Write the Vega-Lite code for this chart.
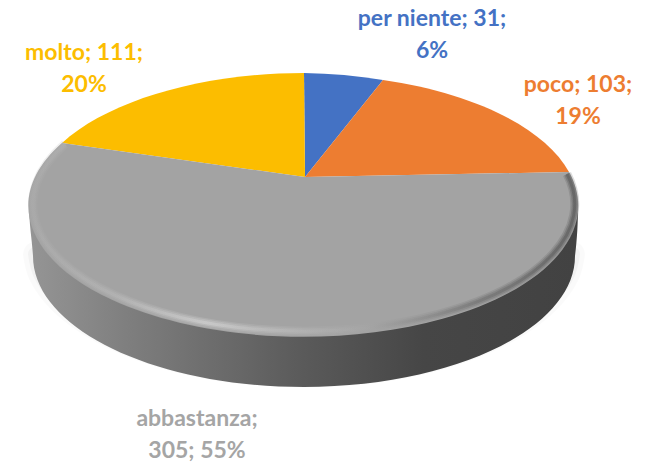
{"$schema":"https://vega.github.io/schema/vega-lite/v6.json","width":646,"height":468,"padding":0,"autosize":{"type":"none"},"background":"#ffffff","config":{"view":{"stroke":null}},
"datasets":{"slices":[{"category":"per niente","value":31,"pct":6,"label":"per niente; 31;\n6%"},{"category":"poco","value":103,"pct":19,"label":"poco; 103;\n19%"},{"category":"abbastanza","value":305,"pct":55,"label":"abbastanza;\n305; 55%"},{"category":"molto","value":111,"pct":20,"label":"molto; 111;\n20%"}]},
"data":{"name":"slices"},
"layer":[
{"transform":[{"filter":"datum.category==='abbastanza'"}],"mark":{"type":"point","size":4,"filled":false,"opacity":1,"stroke":"#000000","strokeOpacity":0.02,"strokeCap":"round","strokeWidth":24,"shape":"M-288 20 C-287 28 -286 33 -283 40 A271 131 0 0 0 245 40 C248 33 249 28 250 20"}},
{"transform":[{"filter":"datum.category==='abbastanza'"}],"mark":{"type":"point","size":4,"filled":false,"opacity":1,"stroke":"#000000","strokeOpacity":0.03,"strokeCap":"round","strokeWidth":14,"shape":"M-288 20 C-287 28 -286 33 -283 40 A271 131 0 0 0 245 40 C248 33 249 28 250 20"}},
{"transform":[{"filter":"datum.category==='abbastanza'"}],"mark":{"type":"point","size":4,"filled":true,"opacity":1,"shape":"M-294 -30 C-294 -10 -291 5 -290 22 A271 131 0 0 0 252 22 C254 5 255 -10 255 -30 Z","fill":{"gradient":"linear","x1":0,"y1":0,"x2":1,"y2":0,"stops":[{"offset":0,"color":"#959595"},{"offset":0.2,"color":"#7c7c7c"},{"offset":0.5,"color":"#5a5a5a"},{"offset":0.72,"color":"#464646"},{"offset":1,"color":"#424242"}]}}},
{"mark":{"type":"point","size":4,"filled":true,"opacity":1},"encoding":{"shape":{"field":"category","type":"nominal","legend":null,"scale":{"domain":["per niente","poco","abbastanza","molto"],"range":["M-18 -57 L-19 -161 A275 131 0 0 1 60 -154 Z","M-18 -57 L60 -154 A275 131 0 0 1 246 -62 Z","M-18 -57 L246 -62 A275 131 0 1 1 -261 -91 Z","M-18 -57 L-261 -91 A275 131 0 0 1 -19 -161 Z"]}},"color":{"field":"category","type":"nominal","legend":null,"scale":{"domain":["per niente","poco","abbastanza","molto"],"range":["#4472c4","#ed7d31","#a3a3a3","#fcbd00"]}},"order":{"field":"value"}}},
{"transform":[{"filter":"datum.category==='abbastanza'"}],"mark":{"type":"point","size":4,"filled":false,"opacity":1,"strokeOpacity":0.2,"strokeWidth":9,"shape":"M244 -60 A271 127 0 1 1 -258 -90","stroke":{"gradient":"linear","x1":0,"y1":0,"x2":1,"y2":0,"stops":[{"offset":0,"color":"#adadad"},{"offset":0.15,"color":"#b8b8b8"},{"offset":0.32,"color":"#d8d8d8"},{"offset":0.45,"color":"#c0c0c0"},{"offset":0.62,"color":"#a5a5a5"},{"offset":0.82,"color":"#6a6a6a"},{"offset":1,"color":"#4a4a4a"}]}}},
{"transform":[{"filter":"datum.category==='abbastanza'"}],"mark":{"type":"point","size":4,"filled":false,"opacity":1,"strokeOpacity":0.3,"strokeWidth":6,"shape":"M244 -60 A271 127 0 1 1 -258 -90","stroke":{"gradient":"linear","x1":0,"y1":0,"x2":1,"y2":0,"stops":[{"offset":0,"color":"#adadad"},{"offset":0.15,"color":"#b8b8b8"},{"offset":0.32,"color":"#d8d8d8"},{"offset":0.45,"color":"#c0c0c0"},{"offset":0.62,"color":"#a5a5a5"},{"offset":0.82,"color":"#6a6a6a"},{"offset":1,"color":"#4a4a4a"}]}}},
{"transform":[{"filter":"datum.category==='abbastanza'"}],"mark":{"type":"point","size":4,"filled":false,"opacity":1,"strokeOpacity":0.4,"strokeWidth":3,"shape":"M244 -60 A271 127 0 1 1 -258 -90","stroke":{"gradient":"linear","x1":0,"y1":0,"x2":1,"y2":0,"stops":[{"offset":0,"color":"#adadad"},{"offset":0.15,"color":"#b8b8b8"},{"offset":0.32,"color":"#dcdcdc"},{"offset":0.45,"color":"#c0c0c0"},{"offset":0.62,"color":"#a5a5a5"},{"offset":0.82,"color":"#6a6a6a"},{"offset":1,"color":"#4a4a4a"}]}}},
{"transform":[{"filter":"datum.category==='per niente'"}],"mark":{"type":"text","font":"Lato","fontWeight":"bold","fontSize":23,"lineHeight":32,"lineBreak":"\n","align":"center","baseline":"middle","dx":109,"dy":-215,"color":"#4472c4"},"encoding":{"text":{"field":"label"}}},
{"transform":[{"filter":"datum.category==='poco'"}],"mark":{"type":"text","font":"Lato","fontWeight":"bold","fontSize":23,"lineHeight":32,"lineBreak":"\n","align":"center","baseline":"middle","dx":255,"dy":-149,"color":"#ed7d31"},"encoding":{"text":{"field":"label"}}},
{"transform":[{"filter":"datum.category==='abbastanza'"}],"mark":{"type":"text","font":"Lato","fontWeight":"bold","fontSize":23,"lineHeight":32,"lineBreak":"\n","align":"center","baseline":"middle","dx":-126,"dy":185,"color":"#a5a5a5"},"encoding":{"text":{"field":"label"}}},
{"transform":[{"filter":"datum.category==='molto'"}],"mark":{"type":"text","font":"Lato","fontWeight":"bold","fontSize":23,"lineHeight":32,"lineBreak":"\n","align":"center","baseline":"middle","dx":-239,"dy":-181,"color":"#fcbd00"},"encoding":{"text":{"field":"label"}}}
]}
